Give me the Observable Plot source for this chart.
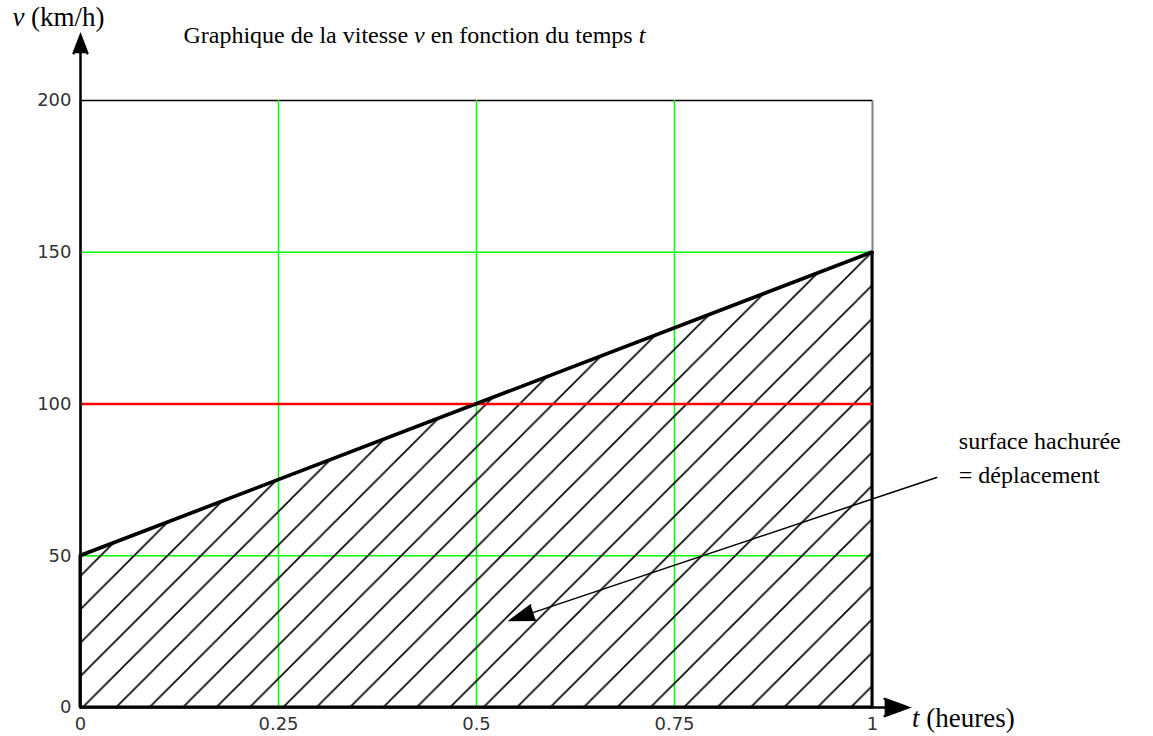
<!DOCTYPE html>
<html>
<head>
<meta charset="utf-8">
<script src="https://cdn.jsdelivr.net/npm/d3@7"></script>
<script src="https://cdn.jsdelivr.net/npm/@observablehq/plot@0.6"></script>
<style>
  html, body { margin: 0; padding: 0; background: #fff; }
  #chart svg { display: block; }
</style>
</head>
<body>
<div id="chart"></div>
<script>
// ---- data ----
const times = [0, 1];            // t (heures)
const speeds = [50, 150];        // v (km/h)
const xTicks = [0, 0.25, 0.5, 0.75, 1];
const yTicks = [0, 50, 100, 150, 200];
const gridX = [0.25, 0.5, 0.75];
const gridY = [50, 150];
const refSpeed = [100];
const frameX = [0, 1];
const frameTop = [200];

// ---- texts ----
const titleParts = [["Graphique de la vitesse ", false], ["v", true], [" en fonction du temps ", false], ["t", true]];
const yLabelParts = [["v", true], [" (km/h)", false]];
const xLabelParts = [["t", true], [" (heures)", false]];
const noteLines = ["surface hachurée", "= déplacement"];

// ---- annotation anchors (data units) ----
const titleAt = [0.130, 218.8];
const yLabelAt = [-0.086, 224.7];
const xLabelAt = [1.050, -6.3];
const noteAt = [[1.109, 85.3], [1.109, 74.1]];
const axisYEnd = [0, 221.4];
const axisXEnd = [1.045, 0];
const pointerFrom = [1.081, 75.8];
const pointerTo = [0.542, 28.7];

const series = times.map((t, i) => ({t, v: speeds[i]}));
const join = parts => parts.map(p => p[0]).join("");
const serif = "Liberation Serif, Times New Roman, serif";
const sans = "DejaVu Sans, Verdana, sans-serif";

const svg = Plot.plot({
  width: 1153,
  height: 736,
  marginLeft: 80,
  marginRight: 281,
  marginTop: 100,
  marginBottom: 29,
  style: {background: "#fff", overflow: "visible"},
  x: {domain: [0, 1], axis: null},
  y: {domain: [0, 200], axis: null},
  marks: [
    Plot.axisX({ticks: xTicks, tickSize: 0, tickPadding: 10, label: null, tickFormat: d => String(d), fontSize: 18, fontFamily: sans, fill: "#333"}),
    Plot.axisY({ticks: yTicks, tickSize: 0, tickPadding: 9, label: null, fontSize: 18, fontFamily: sans, fill: "#333"}),
    // frame
    Plot.ruleX(frameX, {y1: 0, y2: 200, stroke: "#808080", strokeWidth: 2}),
    Plot.ruleY(frameTop, {x1: 0, x2: 1, stroke: "#000", strokeWidth: 1.5}),
    // green grid
    Plot.ruleX(gridX, {y1: 0, y2: 200, stroke: "#00ff00", strokeWidth: 1.5}),
    Plot.ruleY(gridY, {x1: 0, x2: 1, stroke: "#00ff00", strokeWidth: 1.5}),
    // hatched area
    Plot.areaY(series, {x: "t", y: "v", fill: "url(#hatch)", stroke: "#000", strokeWidth: 3, strokeLinejoin: "miter"}),
    // red reference speed
    Plot.ruleY(refSpeed, {x1: 0, x2: 1, stroke: "#ff0000", strokeWidth: 2.5}),
    // velocity line
    Plot.line(series, {x: "t", y: "v", stroke: "#000", strokeWidth: 3}),
    // axes arrows
    Plot.arrow([{x1: 0, y1: 0, x2: axisYEnd[0], y2: axisYEnd[1]}], {x1: "x1", y1: "y1", x2: "x2", y2: "y2", stroke: "#000", fill: "#000", strokeWidth: 2.5, headLength: 11.4, headAngle: 42, strokeLinejoin: "miter", strokeMiterlimit: 10}),
    Plot.arrow([{x1: 0, y1: 0, x2: axisXEnd[0], y2: axisXEnd[1]}], {x1: "x1", y1: "y1", x2: "x2", y2: "y2", stroke: "#000", fill: "#000", strokeWidth: 2.5, headLength: 15, headAngle: 40, strokeLinejoin: "miter", strokeMiterlimit: 10}),
    // pointer arrow
    Plot.arrow([{x1: pointerFrom[0], y1: pointerFrom[1], x2: pointerTo[0], y2: pointerTo[1]}], {x1: "x1", y1: "y1", x2: "x2", y2: "y2", stroke: "#000", fill: "#000", strokeWidth: 1.5, headLength: 26, headAngle: 36, strokeLinejoin: "miter", strokeMiterlimit: 10}),
    // texts
    Plot.text([join(titleParts)], {x: titleAt[0], y: titleAt[1], text: d => d, textAnchor: "start", lineAnchor: "bottom", fontFamily: serif, fontSize: 24, fill: "#000"}),
    Plot.text([join(yLabelParts)], {x: yLabelAt[0], y: yLabelAt[1], text: d => d, textAnchor: "start", lineAnchor: "bottom", fontFamily: serif, fontSize: 27, fill: "#000"}),
    Plot.text([join(xLabelParts)], {x: xLabelAt[0], y: xLabelAt[1], text: d => d, textAnchor: "start", lineAnchor: "bottom", fontFamily: serif, fontSize: 27, fill: "#000"}),
    Plot.text(noteLines, {x: (d, i) => noteAt[i][0], y: (d, i) => noteAt[i][1], text: d => d, textAnchor: "start", lineAnchor: "bottom", fontFamily: serif, fontSize: 24, fill: "#000"})
  ]
});

// hatch pattern definition (transparent background so the grid shows through)
const P = 33.4;
const off = 21.8;
d3.select(svg).insert("defs", ":first-child").html(
  `<pattern id="hatch" patternUnits="userSpaceOnUse" width="${P}" height="${P}" patternTransform="translate(${off},0)">
     <path d="M0,${P} L${P},0 M-3,3 L3,-3 M${P-3},${P+3} L${P+3},${P-3}" stroke="#000" stroke-width="1.6" fill="none"/>
   </pattern>`
);

// italic segments
function styleParts(parts) {
  const full = join(parts);
  svg.querySelectorAll("text").forEach(el => {
    if (el.textContent === full) {
      el.textContent = "";
      parts.forEach(([s, it]) => {
        const ts = document.createElementNS("http://www.w3.org/2000/svg", "tspan");
        ts.textContent = s;
        if (it) ts.setAttribute("font-style", "italic");
        el.appendChild(ts);
      });
    }
  });
}
styleParts(titleParts);
styleParts(yLabelParts);
styleParts(xLabelParts);

document.getElementById("chart").appendChild(svg);
</script>
</body>
</html>
